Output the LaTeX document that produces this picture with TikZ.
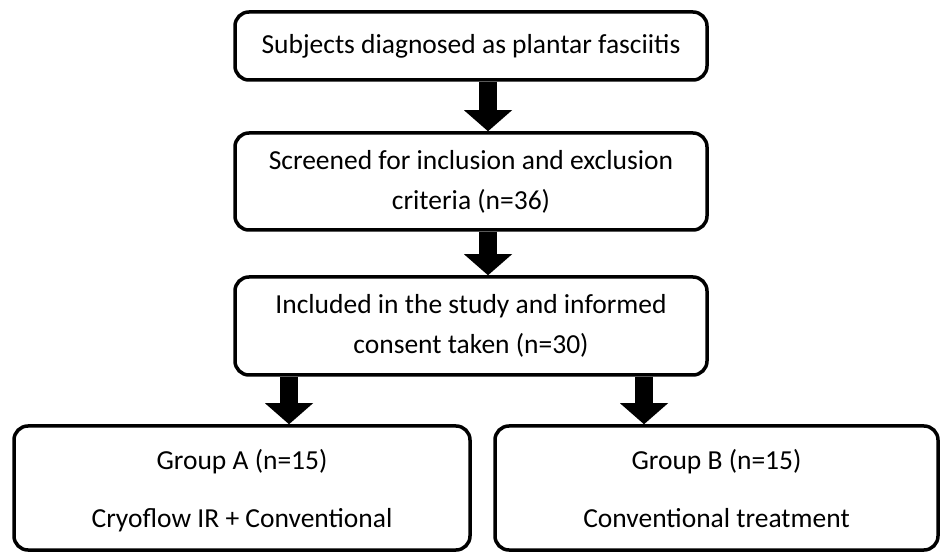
\documentclass[tikz,border=0pt]{standalone}
\usepackage{fontspec}
\setmainfont{Carlito}
\usetikzlibrary{arrows.meta, positioning, calc}

\begin{document}
\begin{tikzpicture}[
    x=1pt, y=1pt,
    stagebox/.style={rectangle, rounded corners=14pt, draw, line width=3.5pt, align=center,
        inner sep=0pt, font=\fontsize{27.5}{40}\selectfont},
    groupbox/.style={stagebox, font=\fontsize{27.5}{58}\selectfont},
    fatarrow/.style={line width=18pt, -{Triangle[width=48pt, length=21pt, line width=0pt]}}
]
\useasboundingbox (0,0) rectangle (942,554);

\node[stagebox, minimum width=472pt, minimum height=68pt] (subjects) at (471,508)
    {Subjects diagnosed as plantar fasciitis};
\node[stagebox, minimum width=472pt, minimum height=97pt] (screened) at (471,372.5)
    {Screened for inclusion and exclusion\\criteria (n=36)};
\node[stagebox, minimum width=472pt, minimum height=98pt] (included) at (471,228)
    {Included in the study and informed\\consent taken (n=30)};
\node[groupbox, minimum width=456pt, minimum height=124pt] (groupA) at (242,66)
    {\rule{0pt}{26pt}Group A (n=15)\\Cryoflow IR + Conventional\vphantom{y}};
\node[groupbox, minimum width=443pt, minimum height=124pt] (groupB) at (716.5,66)
    {\rule{0pt}{26pt}Group B (n=15)\\Conventional treatment\vphantom{y}};

\draw[fatarrow] ([xshift=17pt]subjects.south) -- ([xshift=17pt]screened.north);
\draw[fatarrow] ([xshift=17pt]screened.south) -- ([xshift=17pt]included.north);
\coordinate (splitA) at ([xshift=-182pt]included.south);
\coordinate (splitB) at ([xshift=173pt]included.south);
\draw[fatarrow] (splitA) -- (splitA |- groupA.north);
\draw[fatarrow] (splitB) -- (splitB |- groupB.north);
\end{tikzpicture}
\end{document}
